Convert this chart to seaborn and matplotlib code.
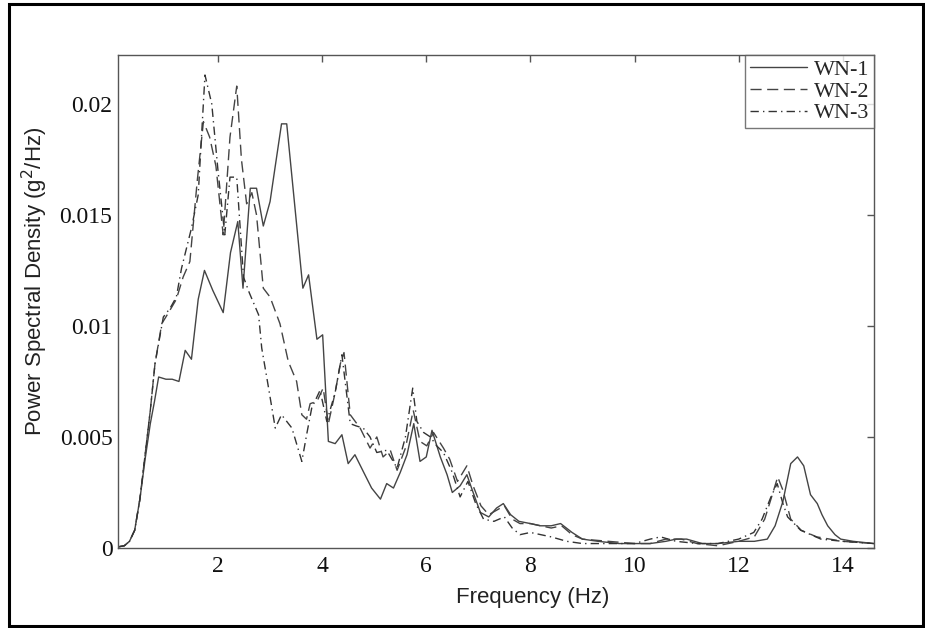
import numpy as np
import pandas as pd
import seaborn as sns
import matplotlib.pyplot as plt
from matplotlib.patches import Rectangle

# values (frequency in Hz, PSD in g^2/Hz)
f_wn1 = [0.08, 0.2, 0.3, 0.4, 0.5, 0.6, 0.7, 0.78, 0.86, 1.0, 1.12, 1.25, 1.37, 1.49,
         1.62, 1.74, 1.9, 2.1, 2.24, 2.38, 2.48, 2.62, 2.74, 2.87, 3.0, 3.1, 3.22, 3.32,
         3.45, 3.63, 3.74, 3.9, 4.01, 4.12, 4.25, 4.38, 4.5, 4.63, 4.8, 4.95, 5.12, 5.24,
         5.37, 5.5, 5.63, 5.76, 5.88, 6.0, 6.11, 6.27, 6.4, 6.5, 6.65, 6.78, 6.9, 7.04,
         7.2, 7.35, 7.48, 7.62, 7.78, 8.0, 8.19, 8.4, 8.58, 8.8, 9.0, 9.3, 9.7, 10.0,
         10.3, 10.6, 10.8, 11.0, 11.3, 11.6, 12.0, 12.3, 12.55, 12.7, 12.85, 13.0, 13.13,
         13.25, 13.38, 13.51, 13.6, 13.71, 13.85, 13.96, 14.2, 14.6]
psd_wn1 = [0.00005, 0.0001, 0.0003, 0.0008, 0.0022, 0.0040, 0.0056, 0.0066, 0.0077, 0.0076,
           0.0076, 0.0075, 0.0089, 0.0085, 0.0112, 0.0125, 0.0116, 0.0106, 0.0133, 0.0147,
           0.0117, 0.0162, 0.0162, 0.0145, 0.0156, 0.0172, 0.0191, 0.0191, 0.0160, 0.0117,
           0.0123, 0.0094, 0.0096, 0.0048, 0.0047, 0.0051, 0.0038, 0.0042, 0.0034, 0.0027,
           0.0022, 0.0029, 0.0027, 0.0034, 0.0042, 0.0056, 0.0039, 0.0041, 0.0053, 0.0041,
           0.0033, 0.0025, 0.0028, 0.0033, 0.0025, 0.0016, 0.0014, 0.0018, 0.0020, 0.0015,
           0.0012, 0.0011, 0.0010, 0.0010, 0.0011, 0.0007, 0.0004, 0.0003, 0.0002, 0.0002,
           0.0002, 0.0003, 0.0004, 0.0004, 0.0002, 0.0002, 0.0003, 0.0003, 0.0004, 0.0010,
           0.0021, 0.0038, 0.0041, 0.0037, 0.0024, 0.0020, 0.0015, 0.0010, 0.0006, 0.0004,
           0.0003, 0.0002]

f_wn2 = [0.08, 0.2, 0.3, 0.4, 0.5, 0.6, 0.7, 0.79, 0.92, 1.05, 1.2, 1.33, 1.46, 1.6, 1.72,
         1.84, 1.96, 2.1, 2.23, 2.36, 2.45, 2.55, 2.65, 2.74, 2.87, 3.0, 3.19, 3.35, 3.51,
         3.61, 3.7, 3.77, 3.9, 4.02, 4.12, 4.25, 4.35, 4.42, 4.54, 4.73, 4.92, 5.05, 5.17,
         5.31, 5.44, 5.6, 5.75, 5.88, 6.01, 6.14, 6.33, 6.45, 6.6, 6.78, 6.9, 7.05, 7.2,
         7.35, 7.5, 7.65, 7.8, 8.0, 8.2, 8.4, 8.6, 8.8, 9.0, 9.5, 10.0, 10.3, 10.6, 10.9,
         11.2, 11.6, 12.0, 12.3, 12.5, 12.62, 12.75, 12.85, 13.0, 13.2, 13.5, 14.0, 14.6]
psd_wn2 = [0.00005, 0.0001, 0.0003, 0.0008, 0.0022, 0.0042, 0.0062, 0.0083, 0.0101, 0.0106,
           0.0112, 0.0122, 0.0129, 0.0165, 0.0192, 0.0185, 0.0172, 0.0141, 0.0185, 0.0208,
           0.0175, 0.0155, 0.0160, 0.0150, 0.0117, 0.0113, 0.0101, 0.0084, 0.0075, 0.0060,
           0.0058, 0.0065, 0.0066, 0.0072, 0.0056, 0.0070, 0.0083, 0.0088, 0.0060, 0.0054,
           0.0045, 0.0050, 0.0041, 0.0044, 0.0035, 0.0045, 0.0062, 0.0048, 0.0046, 0.0052,
           0.0045, 0.0040, 0.0030, 0.0037, 0.0028, 0.0019, 0.0015, 0.0017, 0.0019, 0.0013,
           0.0011, 0.0011, 0.0010, 0.0009, 0.0010, 0.0006, 0.0004, 0.0003, 0.0002, 0.0002,
           0.0004, 0.0004, 0.0002, 0.0001, 0.0003, 0.0005, 0.0013, 0.0022, 0.0032, 0.0026,
           0.0013, 0.0008, 0.0005, 0.0003, 0.0002]

f_wn3 = [0.08, 0.2, 0.3, 0.4, 0.5, 0.6, 0.7, 0.79, 0.95, 1.08, 1.2, 1.3, 1.49, 1.62, 1.75,
         1.88, 2.0, 2.13, 2.23, 2.36, 2.49, 2.6, 2.78, 2.84, 2.95, 3.1, 3.22, 3.42, 3.61,
         3.71, 3.8, 3.96, 4.09, 4.25, 4.38, 4.54, 4.65, 4.79, 4.92, 5.05, 5.24, 5.44, 5.6,
         5.74, 5.82, 5.95, 6.08, 6.2, 6.33, 6.5, 6.65, 6.8, 6.95, 7.1, 7.3, 7.5, 7.65, 7.8,
         8.0, 8.2, 8.4, 8.7, 9.0, 9.5, 10.0, 10.3, 10.5, 10.8, 11.2, 11.6, 12.0, 12.29,
         12.45, 12.62, 12.74, 12.85, 12.94, 13.19, 13.58, 14.0, 14.6]
psd_wn3 = [0.00005, 0.0001, 0.0003, 0.0008, 0.0022, 0.0042, 0.0062, 0.0083, 0.0104, 0.0108,
           0.0113, 0.0126, 0.0144, 0.0159, 0.0213, 0.0200, 0.0170, 0.0141, 0.0167, 0.0167,
           0.0122, 0.0115, 0.0105, 0.0090, 0.0075, 0.0054, 0.0060, 0.0054, 0.0039, 0.0052,
           0.0063, 0.0071, 0.0057, 0.0070, 0.0087, 0.0056, 0.0055, 0.0054, 0.0050, 0.0043,
           0.0044, 0.0036, 0.0050, 0.0072, 0.0057, 0.0052, 0.0050, 0.0046, 0.0043, 0.0034,
           0.0023, 0.0030, 0.0020, 0.0013, 0.0012, 0.0014, 0.0009, 0.0006, 0.0007, 0.0006,
           0.0005, 0.0003, 0.0002, 0.0002, 0.0002, 0.0004, 0.0005, 0.0003, 0.0002, 0.0002,
           0.0004, 0.0007, 0.0013, 0.0023, 0.0029, 0.0020, 0.0014, 0.0008, 0.0004, 0.0003,
           0.0002]

labels = ["WN-1", "WN-2", "WN-3"]

df = pd.concat([
    pd.DataFrame({"freq": f_wn1, "psd": psd_wn1, "run": labels[0]}),
    pd.DataFrame({"freq": f_wn2, "psd": psd_wn2, "run": labels[1]}),
    pd.DataFrame({"freq": f_wn3, "psd": psd_wn3, "run": labels[2]}),
])

sns.set_style("white")

fig = plt.figure(figsize=(9.25, 6.28), dpi=100)
ax = fig.add_axes([0.1276, 0.1274, 0.8173, 0.785])

sns.lineplot(data=df, x="freq", y="psd", hue="run", style="run",
             palette=["#444444", "#444444", "#333333"],
             dashes=[(None, None), (8, 4), (6, 3, 1, 3)],
             linewidth=1.0, sort=False, estimator=None, ax=ax)

ax.set_xlim(0.08, 14.6)
ax.set_ylim(0, 0.0222)
ax.set_xticks([2, 4, 6, 8, 10, 12, 14])
ax.set_yticks([0, 0.005, 0.01, 0.015, 0.02])
ax.set_yticklabels(["0", "0.005", "0.01", "0.015", "0.02"])

for s in ax.spines.values():
    s.set_color("#555555")
    s.set_linewidth(1.0)
ax.tick_params(direction="in", length=5, width=1, color="#555555",
               top=True, right=True, labelsize=17, labelcolor="#111111")
ax.tick_params(axis="y", pad=4)
ax.tick_params(axis="x", pad=6)
for lbl in ax.get_xticklabels() + ax.get_yticklabels():
    lbl.set_family("Liberation Serif")

ax.set_xlabel("Frequency (Hz)", family="Liberation Sans", fontsize=16, color="#222222",
              labelpad=1)
ax.xaxis.set_label_coords(0.548, -0.08)
ax.set_ylabel("Power Spectral Density (g$^2$/Hz)", family="Liberation Sans", fontsize=16,
              color="#222222")
ax.yaxis.set_label_coords(-0.09, 0.54)

leg = ax.legend(loc="upper right", borderaxespad=0, fancybox=False, handlelength=2.6,
                prop={"family": "Liberation Serif", "size": 16}, labelspacing=0.05,
                borderpad=0.2, handletextpad=0.3)
leg.get_frame().set_edgecolor("#555555")
leg.get_frame().set_linewidth(1.0)

fig.add_artist(Rectangle((0.01, 0.003), 0.988, 0.99, transform=fig.transFigure,
                         fill=False, edgecolor="black", linewidth=2.2))

fig.savefig("out.png", dpi=100)
